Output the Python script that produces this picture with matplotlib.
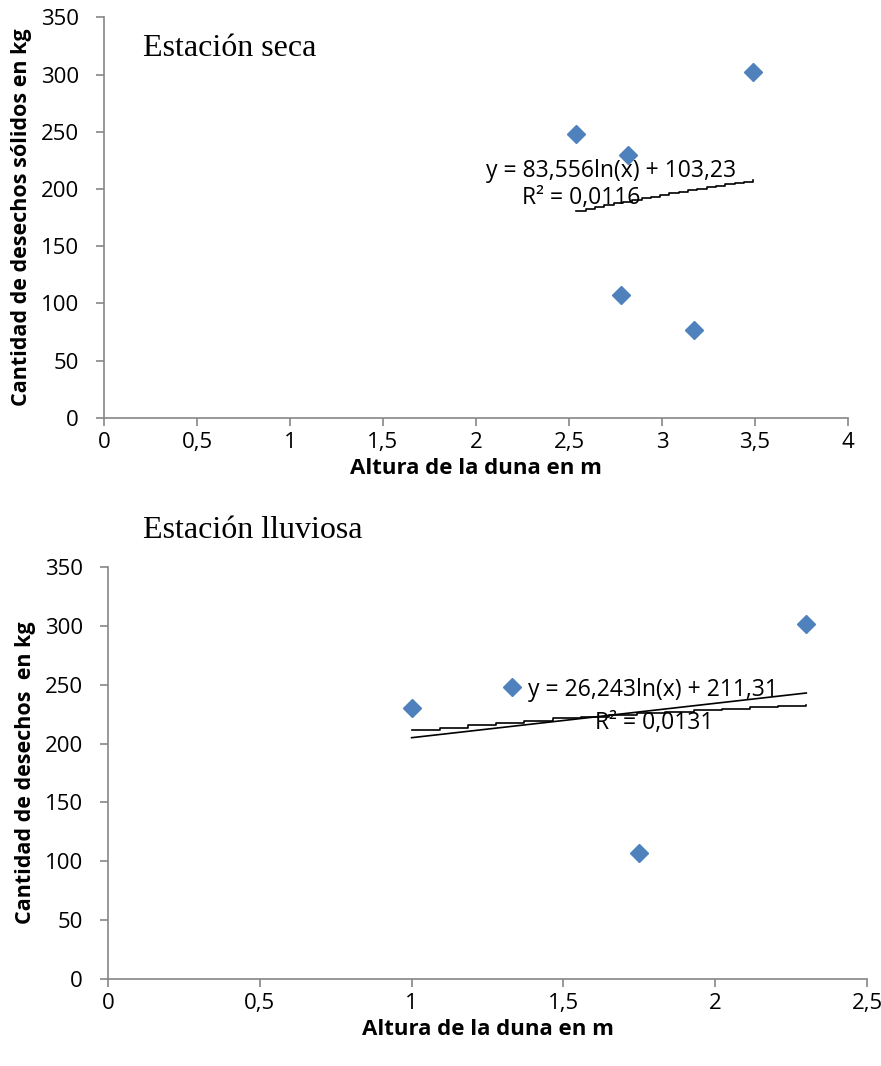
import numpy as np
import matplotlib
matplotlib.use("Agg")
import matplotlib.pyplot as plt

plt.rcParams['font.family'] = ['Open Sans', 'DejaVu Sans']

# datos estacion seca
altura_seca = [2.54, 2.82, 3.49, 2.78, 3.17]
desechos_seca = [248, 230, 302, 107, 77]
# ajuste logaritmico (a*ln(x)+b) y R2
a_seca, b_seca, r2_seca = 83.556, 103.23, 0.0116

# datos estacion lluviosa
altura_lluv = [1.0, 1.33, 2.30, 1.75]
desechos_lluv = [230, 248, 302, 107]
a_lluv, b_lluv, r2_lluv = 26.243, 211.31, 0.0131
# segunda linea de tendencia (recta)
m_lluv, c_lluv = 29.2, 175.8

AZUL = "#4F81BD"
GRIS = "#868686"
TICK_FS = 16
EQ_FS = 16.5


def coma(v, d):
    return f"{v:.{d}f}".replace(".", ",")


def fmt_tick(v, pos):
    if abs(v - round(v)) < 1e-9:
        return str(int(round(v)))
    return coma(v, 1)


def estilo(ax, xmax, xstep):
    ax.set_xlim(0, xmax)
    ax.set_ylim(0, 350)
    ax.set_xticks(np.arange(0, xmax + 1e-9, xstep))
    ax.set_yticks(np.arange(0, 351, 50))
    ax.xaxis.set_major_formatter(plt.FuncFormatter(fmt_tick))
    for s in ["top", "right"]:
        ax.spines[s].set_visible(False)
    for s in ["left", "bottom"]:
        ax.spines[s].set_color(GRIS)
        ax.spines[s].set_linewidth(1.2)
    ax.tick_params(axis="both", direction="out", length=6, color=GRIS, width=1.2,
                   labelsize=TICK_FS, labelcolor="black")
    ax.tick_params(axis="x", pad=4)
    ax.tick_params(axis="y", pad=12)


def tendencia_escalonada(ax, xs, a, b, n):
    x = np.linspace(min(xs), max(xs), n)
    y = a * np.log(x) + b
    ax.plot(x, y, color="black", lw=1.2, drawstyle="steps-post")


fig = plt.figure(figsize=(8.81, 10.66), dpi=100)

# --- estacion seca ---
ax1 = fig.add_axes([0.118, 0.6079, 0.8445, 0.3759])
estilo(ax1, 4, 0.5)
tendencia_escalonada(ax1, altura_seca, a_seca, b_seca, 20)
ax1.plot(altura_seca, desechos_seca, linestyle="none", marker="D", markersize=9.5,
         color=AZUL, zorder=3)
ax1.text(2.727, 216, f"y = {coma(a_seca, 3)}ln(x) + {coma(b_seca, 2)}",
         ha="center", va="center", fontsize=EQ_FS)
ax1.text(2.566, 192, f"R² = {coma(r2_seca, 4)}", ha="center", va="center",
         fontsize=EQ_FS)
ax1.set_xlabel("Altura de la duna en m", fontsize=16, fontweight="bold", labelpad=4)
ax1.set_ylabel("Cantidad de desechos sólidos en kg", fontsize=15.5, fontweight="bold",
               labelpad=6)
fig.text(143 / 881, 1 - 48 / 1066, "Estación seca", family=["Liberation Serif"],
         fontsize=23, ha="left", va="center")

# --- estacion lluviosa ---
ax2 = fig.add_axes([0.1226, 0.0816, 0.8615, 0.3865])
estilo(ax2, 2.5, 0.5)
xl = np.array([min(altura_lluv), max(altura_lluv)])
ax2.plot(xl, m_lluv * xl + c_lluv, color="black", lw=1.2)
tendencia_escalonada(ax2, altura_lluv, a_lluv, b_lluv, 15)
ax2.plot(altura_lluv, desechos_lluv, linestyle="none", marker="D", markersize=9.5,
         color=AZUL, zorder=3)
ax2.text(1.795, 245.5, f"y = {coma(a_lluv, 3)}ln(x) + {coma(b_lluv, 2)}",
         ha="center", va="center", fontsize=EQ_FS)
ax2.text(1.798, 217.5, f"R² = {coma(r2_lluv, 4)}", ha="center", va="center",
         fontsize=EQ_FS)
ax2.set_xlabel("Altura de la duna en m", fontsize=16, fontweight="bold", labelpad=4)
ax2.set_ylabel("Cantidad de desechos  en kg", fontsize=15.5, fontweight="bold",
               labelpad=6)
fig.text(143 / 881, 1 - 530 / 1066, "Estación lluviosa", family=["Liberation Serif"],
         fontsize=23, ha="left", va="center")

fig.savefig("out.png", dpi=100)
